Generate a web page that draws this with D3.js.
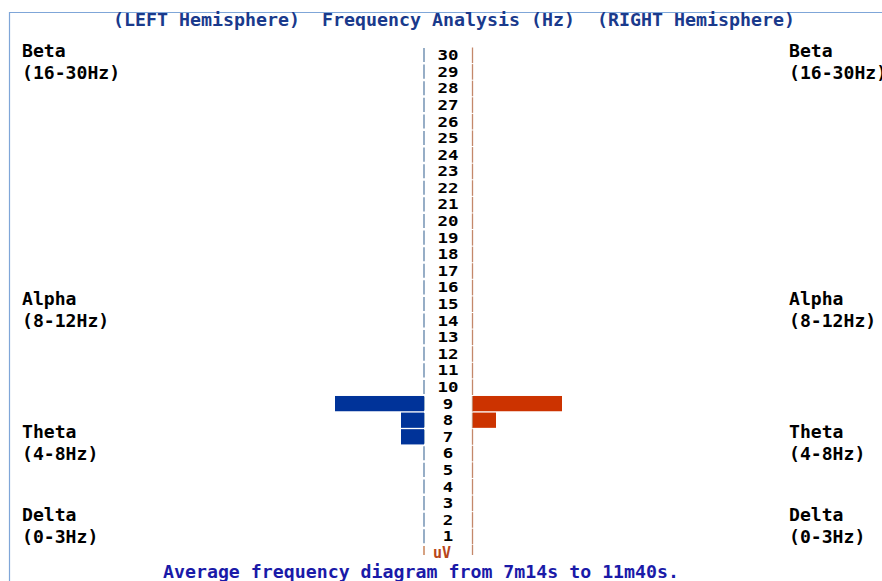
<!DOCTYPE html>
<html>
<head>
<meta charset="utf-8">
<script src="https://cdn.jsdelivr.net/npm/d3@7"></script>
<style>
  body { margin: 0; background: #fff; }
  svg { display: block; }
  text { font-family: "DejaVu Sans Mono", "Liberation Mono", monospace; font-weight: bold; }
</style>
</head>
<body>
<script>
// frequency rows 1..30 Hz
var freqs = d3.range(1, 31);

// average amplitude (uV) per frequency, only non-zero rows
var leftFreq = [9, 8, 7];
var leftVals = [8.9, 2.3, 2.3];
var rightFreq = [9, 8];
var rightVals = [8.9, 2.3];

var bandNames = ['Beta', 'Alpha', 'Theta', 'Delta'];
var bandRanges = ['(16-30Hz)', '(8-12Hz)', '(4-8Hz)', '(0-3Hz)'];
var bandNameY = [51, 299, 432, 515];

var titleText = '(LEFT Hemisphere)  Frequency Analysis (Hz)  (RIGHT Hemisphere)';
var footText = 'Average frequency diagram from 7m14s to 11m40s.';

var width = 882, height = 581;
var leftAxisX = 424, rightAxisX = 472.5;

var svg = d3.select('body').append('svg').attr('width', width).attr('height', height);

// frame lines
svg.append('line').attr('x1', 9).attr('x2', width).attr('y1', 12.5).attr('y2', 12.5)
  .attr('stroke', '#7fa6d8').attr('stroke-width', 1.2);
svg.append('line').attr('x1', 9.5).attr('x2', 9.5).attr('y1', 12).attr('y2', height)
  .attr('stroke', '#7fa6d8').attr('stroke-width', 1.2);

var y = d3.scaleBand().domain(freqs.slice().reverse()).range([47, 543.5]).paddingInner(0.08);
var x = d3.scaleLinear().domain([0, 10]).range([0, 100]);

// title
svg.append('text').attr('x', 113).attr('y', 26).attr('fill', '#1a3a8c')
  .style('font-size', '17px').style('white-space', 'pre')
  .attr('textLength', 682).attr('lengthAdjust', 'spacingAndGlyphs')
  .text(titleText);

// dashed axis segments, one per row
svg.selectAll('.lseg').data(freqs).enter().append('line')
  .attr('x1', leftAxisX).attr('x2', leftAxisX)
  .attr('y1', function(d) { return y(d) + 1; })
  .attr('y2', function(d) { return y(d) + y.step() - 1.5; })
  .attr('stroke', '#5f82a8').attr('stroke-width', 1.3);
svg.selectAll('.rseg').data(freqs).enter().append('line')
  .attr('x1', rightAxisX).attr('x2', rightAxisX)
  .attr('y1', function(d) { return y(d) + 0.5; })
  .attr('y2', function(d) { return y(d) + y.step() - 0.5; })
  .attr('stroke', '#c4886a').attr('stroke-width', 1.3);
// bottom uV row
svg.append('line').attr('x1', leftAxisX).attr('x2', leftAxisX).attr('y1', 546).attr('y2', 555)
  .attr('stroke', '#c0703f').attr('stroke-width', 1.3);
svg.append('line').attr('x1', rightAxisX).attr('x2', rightAxisX).attr('y1', 545).attr('y2', 555)
  .attr('stroke', '#c4886a').attr('stroke-width', 1.3);
svg.append('text').attr('x', 442).attr('y', 558).attr('text-anchor', 'middle')
  .attr('fill', '#b8461a').style('font-size', '15px').text('uV');

// frequency labels
svg.selectAll('.flab').data(freqs).enter().append('text')
  .attr('x', 448).attr('y', function(d) { return y(d) + y.bandwidth() / 2 + 5.5; })
  .attr('text-anchor', 'middle').attr('fill', '#000').style('font-size', '14px')
  .attr('textLength', function(d) { return String(d).length * 10.5; })
  .attr('lengthAdjust', 'spacingAndGlyphs')
  .text(function(d) { return d; });

// bars
svg.selectAll('.lbar').data(leftVals).enter().append('rect')
  .attr('x', function(d) { return leftAxisX - x(d); })
  .attr('y', function(d, i) { return y(leftFreq[i]) + 0.5; })
  .attr('width', function(d) { return x(d); })
  .attr('height', y.bandwidth())
  .attr('fill', '#003399');
svg.selectAll('.rbar').data(rightVals).enter().append('rect')
  .attr('x', rightAxisX + 0.5)
  .attr('y', function(d, i) { return y(rightFreq[i]) + 0.5; })
  .attr('width', function(d) { return x(d); })
  .attr('height', y.bandwidth())
  .attr('fill', '#cc3300');

// band labels both sides
[22, 789].forEach(function(lx) {
  bandNames.forEach(function(n, i) {
    svg.append('text').attr('x', lx).attr('y', bandNameY[i] + 6).attr('fill', '#000')
      .style('font-size', '17px').attr('textLength', n.length * 10.9).attr('lengthAdjust', 'spacingAndGlyphs')
      .text(n);
    svg.append('text').attr('x', lx).attr('y', bandNameY[i] + 28).attr('fill', '#000')
      .style('font-size', '17px').attr('textLength', bandRanges[i].length * 10.9).attr('lengthAdjust', 'spacingAndGlyphs')
      .text(bandRanges[i]);
  });
});

// footer
svg.append('text').attr('x', 163).attr('y', 578).attr('fill', '#1a1aa8')
  .style('font-size', '17px').attr('textLength', 516).attr('lengthAdjust', 'spacingAndGlyphs')
  .text(footText);
</script>
</body>
</html>
